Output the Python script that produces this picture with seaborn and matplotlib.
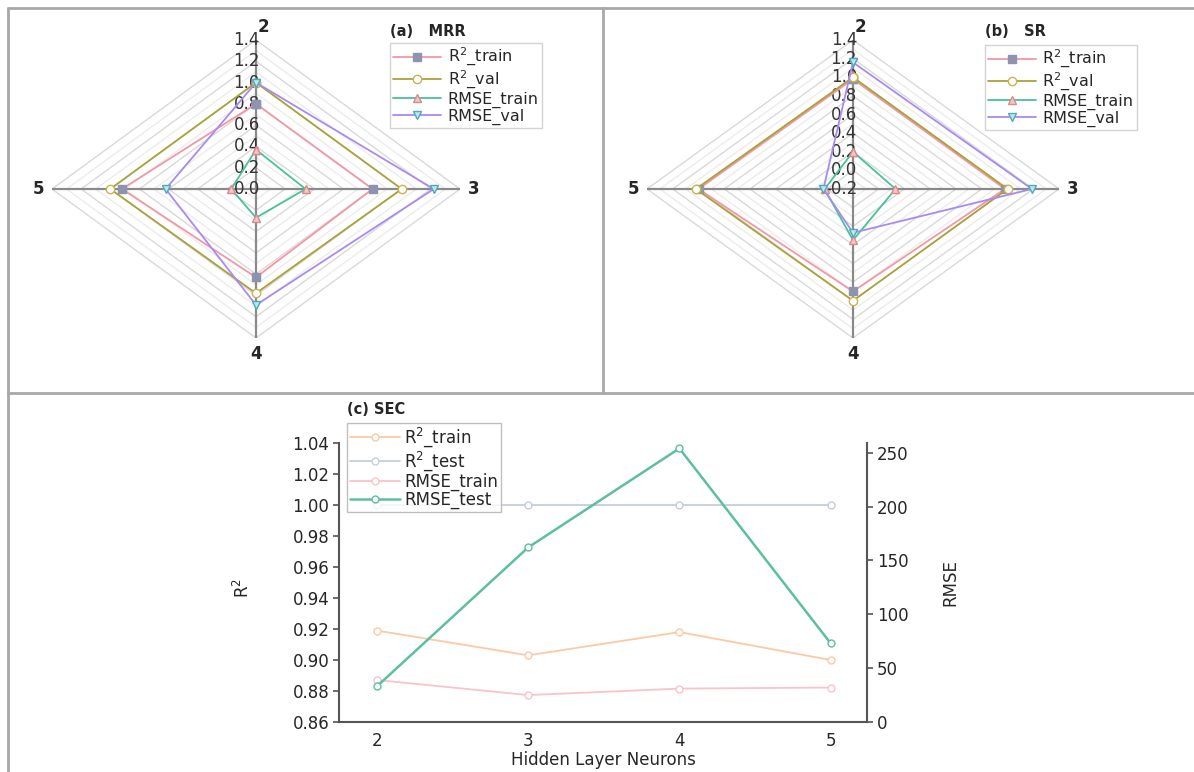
import numpy as np
import pandas as pd
import seaborn as sns
import matplotlib.pyplot as plt
from matplotlib.lines import Line2D

# =============================
# DATA
# =============================

spokes = ["2", "3", "4", "5"]          # hidden layer neurons, clockwise from top

# (a) MRR radar values, in spoke order 2, 3, 4, 5
mrr_r2_train = [0.80, 0.80, 0.83, 0.92]
mrr_r2_val = [1.00, 1.00, 0.98, 1.00]
mrr_rmse_train = [0.37, 0.34, 0.27, 0.17]
mrr_rmse_val = [1.00, 1.22, 1.09, 0.62]

# (b) SR radar values
sr_r2_train = [0.98, 0.98, 0.90, 1.00]
sr_r2_val = [1.00, 1.00, 1.00, 1.02]
sr_rmse_train = [0.20, 0.13, 0.35, 0.02]
sr_rmse_val = [1.16, 1.19, 0.27, 0.03]

# (c) SEC line chart
neurons = [2, 3, 4, 5]
sec_r2_train = [0.919, 0.903, 0.918, 0.900]
sec_r2_test = [1.000, 1.000, 1.000, 1.000]
sec_rmse_train = [39, 25, 31, 32]
sec_rmse_test = [33, 162, 254, 73]

# =============================
# STYLE
# =============================

sns.set_style("white")
plt.rcParams["font.family"] = ["DejaVu Sans"]

W, H = 1194, 772
fig = plt.figure(figsize=(W / 100, H / 100), dpi=100)


def px_axes(x0, y0, x1, y1):
    # axes placed by pixel box (top-left origin)
    return fig.add_axes([x0 / W, 1 - y1 / H, (x1 - x0) / W, (y1 - y0) / H])


radar_styles = {
    "R$^2$_train": dict(color="#f297a6", marker="s", mfc="#8e93b0", mec="#8e93b0"),
    "R$^2$_val": dict(color="#a9a23a", marker="o", mfc="white", mec="#c9b44e"),
    "RMSE_train": dict(color="#48c29a", marker="^", mfc="#f0c8c8", mec="#d98a8a"),
    "RMSE_val": dict(color="#a98af0", marker="v", mfc="#bfe6ee", mec="#4fa9bd"),
}


def radar(ax, series, rmin, rmax):
    span = rmax - rmin
    theta = np.arange(len(spokes)) * np.pi / 2
    px = 2 * span / 408            # data units per horizontal pixel

    # diamond grid every 0.1
    for i in range(1, int(round(span / 0.1)) + 1):
        r = i * 0.1
        gx = np.append(r * np.sin(theta), 0)
        gy = np.append(r * np.cos(theta), r)
        ax.plot(gx, gy, color="#d9d9d9" if i % 2 == 0 else "#ececec", lw=1.0, zorder=1)

    # spokes
    for t in theta:
        ax.plot([0, span * np.sin(t)], [0, span * np.cos(t)], color="#8a8a8a", lw=1.6, zorder=2)

    # radial tick labels along the top spoke
    for v in np.arange(rmin, rmax + 0.001, 0.2):
        ax.text(4 * px, v - rmin, f"{v:.1f}", ha="right", va="center",
                fontsize=12, color="#333333", zorder=2)

    # spoke labels
    ax.text(7 * px, span * 1.085, spokes[0], ha="center", va="center", fontsize=12, fontweight="bold")
    ax.text(span * 1.065, 0, spokes[1], ha="center", va="center", fontsize=12, fontweight="bold")
    ax.text(0, -span * 1.11, spokes[2], ha="center", va="center", fontsize=12, fontweight="bold")
    ax.text(-span * 1.065, 0, spokes[3], ha="center", va="center", fontsize=12, fontweight="bold")

    for name, vals in series.items():
        r = np.array(vals) - rmin
        xs = np.append(r * np.sin(theta), r[0] * np.sin(theta[0]))
        ys = np.append(r * np.cos(theta), r[0] * np.cos(theta[0]))
        st = radar_styles[name]
        sns.lineplot(x=xs, y=ys, sort=False, estimator=None, ax=ax, color=st["color"],
                     lw=1.3, marker=st["marker"], markersize=6, markerfacecolor=st["mfc"],
                     markeredgecolor=st["mec"], markeredgewidth=1.0, label=name, zorder=3)

    ax.set_xlim(-span, span)
    ax.set_ylim(-span, span)
    ax.axis("off")
    return ax


def radar_legend(ax, x, y):
    leg = ax.legend(loc="upper left", bbox_to_anchor=(x / W, 1 - y / H),
                    bbox_transform=fig.transFigure, frameon=True, fancybox=False,
                    fontsize=11.5, handlelength=3.0, borderpad=0.2, labelspacing=0.05,
                    handletextpad=0.4, borderaxespad=0)
    leg.get_frame().set_edgecolor("#c8c8c8")
    return leg


# (a) MRR
ax_a = px_axes(52, 40, 460, 338)
radar(ax_a, {"R$^2$_train": mrr_r2_train, "R$^2$_val": mrr_r2_val,
             "RMSE_train": mrr_rmse_train, "RMSE_val": mrr_rmse_val}, 0.0, 1.4)
radar_legend(ax_a, 390, 43)
fig.text(390 / W, 1 - 31 / H, "(a)   MRR", fontsize=10.5, fontweight="bold", va="center")

# (b) SR
ax_b = px_axes(647, 40, 1059, 338)
radar(ax_b, {"R$^2$_train": sr_r2_train, "R$^2$_val": sr_r2_val,
             "RMSE_train": sr_rmse_train, "RMSE_val": sr_rmse_val}, -0.2, 1.4)
radar_legend(ax_b, 985, 45)
fig.text(985 / W, 1 - 31 / H, "(b)   SR", fontsize=10.5, fontweight="bold", va="center")

# (c) SEC
sec = pd.DataFrame({"neurons": neurons, "r2_train": sec_r2_train, "r2_test": sec_r2_test,
                    "rmse_train": sec_rmse_train, "rmse_test": sec_rmse_test})

ax_c = px_axes(339, 443, 867, 722)
ax_r = ax_c.twinx()

line_kw = dict(marker="o", markersize=5, markerfacecolor="white", markeredgewidth=1.0)
sns.lineplot(data=sec, x="neurons", y="r2_train", ax=ax_c, color="#fdc9a4", lw=1.3,
             markeredgecolor="#fdc9a4", label="R$^2$_train", legend=False, **line_kw)
sns.lineplot(data=sec, x="neurons", y="r2_test", ax=ax_c, color="#c7cbe0", lw=1.3,
             markeredgecolor="#c7cbe0", label="R$^2$_test", legend=False, **line_kw)
sns.lineplot(data=sec, x="neurons", y="rmse_train", ax=ax_r, color="#f9c3cc", lw=1.3,
             markeredgecolor="#f9c3cc", label="RMSE_train", legend=False, **line_kw)
sns.lineplot(data=sec, x="neurons", y="rmse_test", ax=ax_r, color="#5dbf9f", lw=1.8,
             markeredgecolor="#5dbf9f", label="RMSE_test", legend=False, **line_kw)

ax_c.set_xlim(1.75, 5.24)
ax_c.set_ylim(0.86, 1.04)
ax_c.set_yticks(np.arange(0.86, 1.0401, 0.02))
ax_c.set_yticklabels([f"{v:.2f}" for v in np.arange(0.86, 1.0401, 0.02)])
ax_c.set_xticks(neurons)
ax_r.set_ylim(0, 259)
ax_r.set_yticks([0, 50, 100, 150, 200, 250])

ax_c.set_xlabel("Hidden Layer Neurons", fontsize=12)
ax_c.set_ylabel("R$^2$", fontsize=12)
ax_r.set_ylabel("RMSE", fontsize=12)
ax_c.xaxis.set_label_coords(0.5, -0.105)
ax_c.yaxis.set_label_coords(-0.162, 0.48)
ax_r.yaxis.set_label_coords(1.14, 0.5)

for a in (ax_c, ax_r):
    a.tick_params(direction="out", length=4, width=1.2, color="#555555", labelsize=12, pad=3)
    for s in a.spines.values():
        s.set_color("#555555")
        s.set_linewidth(1.5)
    a.spines["top"].set_visible(False)
ax_c.spines["right"].set_visible(False)
ax_r.spines["left"].set_visible(False)
ax_r.spines["bottom"].set_visible(False)

handles = ax_c.get_lines()[:2] + ax_r.get_lines()[:2]
leg_c = ax_r.legend(handles=handles, labels=[h.get_label() for h in handles],
                    loc="upper left", bbox_to_anchor=(347 / W, 1 - 423 / H),
                    bbox_transform=fig.transFigure, frameon=True, fancybox=False,
                    fontsize=12, handlelength=3.0, borderpad=0.15, labelspacing=0.0,
                    handletextpad=0.3, borderaxespad=0)
leg_c.get_frame().set_edgecolor("#b0b0b0")
fig.text(347 / W, 1 - 410 / H, "(c) SEC", fontsize=10.5, fontweight="bold", va="center")

# =============================
# PANEL FRAME
# =============================

frame_kw = dict(color="#a8a8a8", lw=2.0, transform=fig.transFigure)
fig.add_artist(Line2D([8 / W, 1], [1 - 8 / H, 1 - 8 / H], **frame_kw))
fig.add_artist(Line2D([8 / W, 8 / W], [1 - 8 / H, 0], **frame_kw))
fig.add_artist(Line2D([603 / W, 603 / W], [1 - 8 / H, 1 - 393 / H], **frame_kw))
fig.add_artist(Line2D([8 / W, 1], [1 - 393 / H, 1 - 393 / H], **frame_kw))

fig.savefig("out.png", dpi=100)
